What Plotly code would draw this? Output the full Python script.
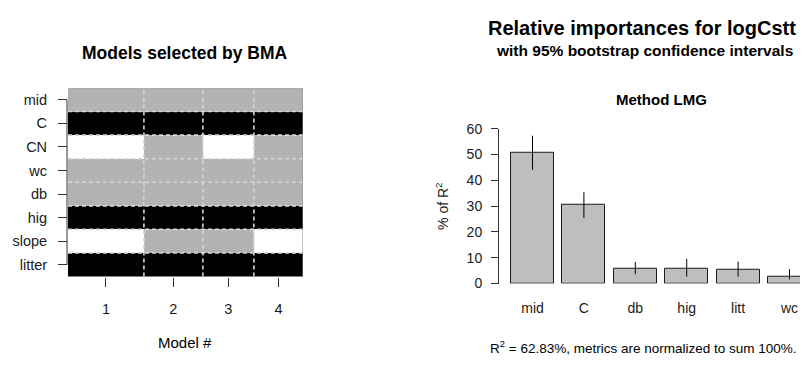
import plotly.graph_objects as go
import numpy as np

# ---- Left panel data: BMA models ----
variables = ["mid", "C", "CN", "wc", "db", "hig", "slope", "litter"]
# sign of coefficient in each model: 1 positive (black), -1 negative (grey), 0 not included
model_signs = {
    "mid":    [-1, -1, -1, -1],
    "C":      [1, 1, 1, 1],
    "CN":     [0, -1, 0, -1],
    "wc":     [-1, -1, -1, -1],
    "db":     [-1, -1, -1, -1],
    "hig":    [1, 1, 1, 1],
    "slope":  [0, -1, -1, 0],
    "litter": [1, 1, 1, 1],
}
post_prob = [0.323, 0.251, 0.217, 0.209]
model_labels = ["1", "2", "3", "4"]

# ---- Right panel data: relative importances (LMG, % of R^2) ----
rel_vars = ["mid", "C", "db", "hig", "litt", "wc"]
rel_vals = [50.6, 30.4, 5.6, 5.6, 5.3, 2.7]
ci_upper = [57.3, 35.4, 8.4, 9.6, 8.5, 5.6]
ci_lower = [44.1, 25.4, 3.6, 2.7, 2.7, 1.6]
y_ticks = [0, 10, 20, 30, 40, 50, 60]

# page body has an 8px margin -> figure is 800x360 placed at (8,8)
OFF = 8
W, H = 800, 360
FONT = "Liberation Sans, Arial, Helvetica, sans-serif"

def px_x(p):
    return (p - OFF) / W

def px_y(p):
    return 1 - (p - OFF) / H

edges = np.concatenate([[0], np.cumsum(post_prob)])
centers = (edges[:-1] + edges[1:]) / 2

rows_bottom_up = variables[::-1]
z = [model_signs[v] for v in rows_bottom_up]
yidx = list(range(len(rows_bottom_up)))
n_rows = len(rows_bottom_up)

fig = go.Figure()

fig.add_trace(go.Heatmap(
    z=z, x=edges, y=yidx, zmin=-1, zmax=1,
    colorscale=[[0, "#b3b3b3"], [0.33, "#b3b3b3"], [0.33, "#ffffff"],
                [0.67, "#ffffff"], [0.67, "#000000"], [1, "#000000"]],
    showscale=False, hoverinfo="skip", xaxis="x", yaxis="y"))

dash_col = "#d6d6d6"
for k in range(n_rows - 1):
    yy = k + 0.5
    fig.add_trace(go.Scatter(x=[edges[0], edges[-1]], y=[yy, yy], mode="lines",
                             line=dict(color=dash_col, width=1.6, dash="4px,3px"),
                             hoverinfo="skip", showlegend=False, xaxis="x", yaxis="y"))
for e in edges[1:-1]:
    fig.add_trace(go.Scatter(x=[e, e], y=[-0.5, n_rows - 0.5], mode="lines",
                             line=dict(color=dash_col, width=1.6, dash="4px,3px"),
                             hoverinfo="skip", showlegend=False, xaxis="x", yaxis="y"))

# ---- Right panel bars ----
fig.add_trace(go.Bar(
    x=list(range(len(rel_vars))), y=rel_vals,
    marker=dict(color="#bebebe", line=dict(color="#1a1a1a", width=1)),
    width=0.833,
    error_y=dict(type="data", symmetric=False,
                 array=[u - v for u, v in zip(ci_upper, rel_vals)],
                 arrayminus=[v - l for v, l in zip(rel_vals, ci_lower)],
                 color="#000000", thickness=1, width=0),
    hoverinfo="skip", showlegend=False, xaxis="x2", yaxis="y2"))

# pixel geometry (page pixels)
L_x0, L_x1, L_y0, L_y1 = 68, 303, 83.3, 280.7
R_x0, R_y0, R_y1 = 499, 126, 288
bar_c0, bar_step = 532.5, 51.4

fig.update_layout(
    width=W, height=H,
    margin=dict(l=0, r=0, t=0, b=0),
    paper_bgcolor="white", plot_bgcolor="white",
    font=dict(family=FONT, color="#000000"),
    showlegend=False,
    bargap=0,
    xaxis=dict(domain=[px_x(L_x0), px_x(L_x1)], range=[edges[0], edges[-1]],
               tickmode="array", tickvals=list(centers), ticktext=model_labels,
               ticks="outside", ticklen=9, tickcolor="#333333", tickwidth=1,
               showline=False, showgrid=False, zeroline=False,
               tickfont=dict(size=14.5, family=FONT, color="#1a1a1a"),
               ticklabelstandoff=10, fixedrange=True),
    yaxis=dict(domain=[px_y(L_y1), px_y(L_y0)], range=[-0.5, n_rows - 0.5],
               tickmode="array", tickvals=yidx, ticktext=rows_bottom_up,
               ticks="outside", ticklen=9, tickcolor="#333333", tickwidth=1,
               showline=False, showgrid=False, zeroline=False,
               tickfont=dict(size=14.5, family=FONT, color="#1a1a1a"),
               ticklabelstandoff=8, fixedrange=True),
    xaxis2=dict(domain=[px_x(R_x0), 1.0],
                range=[-(bar_c0 - R_x0) / bar_step, (808 - bar_c0) / bar_step],
                tickmode="array", tickvals=list(range(len(rel_vars))), ticktext=rel_vars,
                ticks="", showline=False, showgrid=False, zeroline=False,
                tickfont=dict(size=14, family=FONT, color="#1a1a1a"),
                ticklabelstandoff=14, anchor="y2", fixedrange=True),
    yaxis2=dict(domain=[px_y(R_y1), px_y(R_y0)], range=[0, 60],
                tickmode="array", tickvals=y_ticks, ticktext=[str(t) for t in y_ticks],
                ticks="outside", ticklen=7, tickcolor="#333333", tickwidth=1,
                showline=True, linecolor="#333333", linewidth=1,
                showgrid=False, zeroline=False,
                tickfont=dict(size=14, family=FONT, color="#1a1a1a"),
                ticklabelstandoff=6, anchor="x2", fixedrange=True,
                title=dict(text="% of R<sup>2</sup>", font=dict(size=14, family=FONT, color="#1a1a1a"),
                           standoff=14)),
)

# left axis line between first and last tick (as in R), and thin frame edges of the image
fig.add_shape(type="line", xref="paper", yref="y", x0=px_x(67), x1=px_x(67), y0=0, y1=n_rows - 1,
              line=dict(color="#333333", width=1), layer="above")
fig.add_shape(type="line", xref="x", yref="y", x0=edges[-1], x1=edges[-1], y0=-0.5, y1=n_rows - 0.5,
              line=dict(color="#8c8c8c", width=1), layer="above")
fig.add_shape(type="line", xref="x", yref="y", x0=edges[0], x1=edges[-1], y0=n_rows - 0.5, y1=n_rows - 0.5,
              line=dict(color="#a0a0a0", width=1), layer="above")

annots = [
    dict(text="<b>Models selected by BMA</b>", x=185, y=47, size=17.5),
    dict(text="Model #", x=185, y=350, size=15),
    dict(text="<b>Relative importances for logCstt</b>", x=642, y=21, size=20),
    dict(text="<b>with 95% bootstrap confidence intervals</b>", x=644, y=44, size=15.5),
    dict(text="<b>Method LMG</b>", x=661, y=95, size=15),
    dict(text="R<sup>2</sup> = 62.83%, metrics are normalized to sum 100%.", x=643, y=354, size=13.5),
]
for a in annots:
    fig.add_annotation(text=a["text"], x=px_x(a["x"]), y=px_y(a["y"]), xref="paper", yref="paper",
                       xanchor="center", yanchor="middle", showarrow=False,
                       font=dict(size=a["size"], family=FONT, color="#000000"))

fig.write_html("out.html")
